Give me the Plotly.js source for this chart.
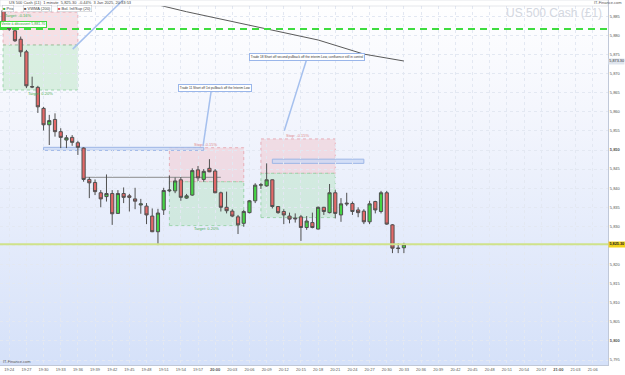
<!DOCTYPE html>
<html><head><meta charset="utf-8">
<script src="https://cdn.plot.ly/plotly-3.0.1.min.js"></script>
<style>html,body{margin:0;padding:0;background:#fff;}#chart{width:625px;height:375px;}</style>
</head><body><div id="chart"></div>
<script>
const DAY = '2025-01-03 ';
const times = ['19:23','19:24','19:25','19:26','19:27','19:28','19:29','19:30','19:31','19:32',
'19:33','19:34','19:35','19:36','19:37','19:38','19:39','19:40','19:41','19:42',
'19:43','19:44','19:45','19:46','19:47','19:48','19:49','19:50','19:51','19:52',
'19:53','19:54','19:55','19:56','19:57','19:58','19:59','20:00','20:01','20:02',
'20:03','20:04','20:05','20:06','20:07','20:08','20:09','20:10','20:11','20:12',
'20:13','20:14','20:15','20:16','20:17','20:18','20:19','20:20','20:21','20:22',
'20:23','20:24','20:25','20:26','20:27','20:28','20:29','20:30','20:31','20:32','20:33'];
const open = [5886.5,5883.3,5881.2,5879.0,5875.7,5866.6,5866.4,5860.9,5856.6,5858.0,
5854.8,5852.6,5853.3,5851.9,5850.5,5842.3,5841.5,5838.8,5837.8,5838.6,
5833.4,5838.6,5838.0,5837.2,5835.6,5835.3,5832.7,5828.6,5834.3,5839.3,
5839.3,5842.2,5837.4,5838.2,5844.8,5842.3,5845.2,5844.5,5838.8,5835.0,
5834.0,5832.5,5830.8,5833.6,5836.7,5840.8,5840.6,5842.2,5835.2,5833.9,
5832.7,5832.2,5832.5,5829.7,5831.0,5829.3,5835.0,5833.6,5838.8,5833.0,
5836.1,5836.0,5834.3,5834.0,5831.2,5836.5,5833.9,5838.8,5830.4,5824.2,5824.4];
const high = [5886.9,5883.8,5881.7,5879.7,5876.2,5869.2,5866.8,5861.3,5859.2,5859.6,
5855.7,5853.9,5853.9,5852.4,5850.7,5842.9,5842.3,5839.5,5843.6,5839.5,
5839.5,5840.2,5838.5,5840.1,5837.2,5836.1,5834.7,5834.6,5840.1,5843.3,
5842.8,5842.9,5838.5,5845.2,5845.8,5845.0,5847.6,5845.0,5839.1,5839.1,
5834.5,5833.0,5834.3,5836.9,5841.3,5841.4,5846.5,5842.3,5835.3,5834.5,
5833.6,5833.4,5833.0,5832.7,5833.6,5835.2,5835.1,5841.1,5839.5,5837.4,
5838.8,5836.5,5835.0,5834.5,5836.7,5836.7,5839.3,5839.3,5830.6,5825.6,5825.7];
const low = [5882.7,5881.2,5878.3,5874.4,5866.2,5866.2,5859.7,5855.1,5851.3,5853.5,
5850.5,5850.5,5851.1,5848.7,5841.7,5837.4,5838.2,5835.0,5836.5,5830.4,
5833.3,5836.1,5833.9,5834.5,5833.3,5830.6,5828.5,5825.1,5833.0,5838.9,
5838.7,5836.7,5837.2,5838.0,5841.9,5841.7,5844.2,5838.7,5833.9,5833.4,
5832.4,5828.0,5829.9,5833.4,5836.1,5839.8,5840.4,5834.7,5833.3,5830.6,
5830.8,5831.0,5826.2,5829.1,5829.5,5829.2,5833.0,5833.4,5832.1,5831.2,
5835.3,5833.0,5832.4,5830.6,5830.6,5833.4,5833.4,5830.4,5823.0,5823.0,5823.0];
const close = [5883.3,5881.6,5878.6,5875.7,5866.8,5866.5,5861.3,5856.6,5857.7,5854.8,
5853.3,5853.2,5852.0,5850.7,5842.3,5841.4,5839.1,5837.2,5838.6,5833.3,
5838.6,5837.6,5837.6,5836.6,5835.9,5833.0,5828.6,5833.5,5839.4,5839.5,
5841.9,5837.6,5838.0,5844.6,5842.7,5844.4,5844.3,5838.8,5835.0,5834.1,
5832.7,5830.4,5833.9,5836.7,5840.8,5840.9,5842.2,5835.2,5833.6,5833.0,
5831.9,5832.0,5829.7,5831.4,5829.7,5835.0,5833.9,5838.8,5833.4,5835.9,
5835.9,5833.9,5833.6,5831.2,5835.9,5834.3,5838.8,5830.6,5824.3,5824.3,5825.3];
const maTimes = ['19:47','19:50','19:55','19:59','20:08','20:18','20:26','20:33'];
const maValues = [5889.9,5888.0,5886.2,5884.9,5881.9,5878.8,5875.1,5873.3];
const lastPrice = 5825.3;
const orderLevel = 5881.7;
const xTickTimes = ['19:24','19:27','19:30','19:33','19:36','19:39','19:42','19:45','19:48','19:51','19:54','19:57',
'20:00','20:03','20:06','20:09','20:12','20:15','20:18','20:21','20:24','20:27','20:30','20:33','20:36','20:39',
'20:42','20:45','20:48','20:51','20:54','20:57','21:00','21:03','21:06'];
const xTickText = ['19:24','19:27','19:30','19:33','19:36','19:39','19:42','19:45','19:48','19:51','19:54','19:57',
'<b>20:00</b>','20:03','20:06','20:09','20:12','20:15','20:18','20:21','20:24','20:27','20:30','20:33','20:36','20:39',
'20:42','20:45','20:48','20:51','20:54','20:57','<b>21:00</b>','21:03','21:06'];
const yTickVals = [5795,5800,5805,5810,5815,5820,5825,5830,5835,5840,5845,5850,5855,5860,5865,5870,5875,5880,5885];
const yTickText = ['5,795','<b>5,800</b>','5,805','5,810','5,815','5,820','','5,830','5,835','5,840','5,845','<b>5,850</b>','5,855','5,860','5,865','5,870','5,875','5,880','5,885'];

const T = t => DAY + (t.length === 5 ? t + ':00' : t);
const FONT = 'Liberation Sans, Arial, sans-serif';
const fmt = v => v.toLocaleString('en-US', {minimumFractionDigits: 2, maximumFractionDigits: 2});

const traces = [
  {
    type: 'candlestick',
    x: times.map(T), open: open, high: high, low: low, close: close,
    increasing: {fillcolor: '#45d345', line: {color: '#505050', width: 1}},
    decreasing: {fillcolor: '#e36868', line: {color: '#505050', width: 1}},
    whiskerwidth: 0, hoverinfo: 'skip', showlegend: false
  },
  {
    type: 'scatter', mode: 'lines', x: maTimes.map(T), y: maValues,
    line: {color: '#5a5a5a', width: 1}, hoverinfo: 'skip', showlegend: false
  }
];

const PH = 365; // plot height px
const py = p => 1 - p / PH;

const grad = '<svg xmlns="http://www.w3.org/2000/svg" width="10" height="100" preserveAspectRatio="none"><defs><linearGradient id="g" x1="0" y1="0" x2="0" y2="1"><stop offset="0" stop-color="#ffffff"/><stop offset="0.3" stop-color="#f4f6fd"/><stop offset="0.66" stop-color="#e4ebfb"/><stop offset="1" stop-color="#d5e1f9"/></linearGradient></defs><rect width="10" height="100" fill="url(#g)"/></svg>';

const pinkFill = 'rgba(240,200,208,0.55)', pinkLine = 'rgba(230,170,180,0.9)';
const greenFill = 'rgba(185,228,195,0.5)', greenLine = 'rgba(150,210,165,0.9)';

const shapes = [
  {type:'rect', xref:'paper', yref:'paper', x0:0, x1:1, y0:py(6), y1:1, fillcolor:'#ffffff', line:{color:'#c8ccd4', width:0.5}, layer:'above'},
  {type:'rect', xref:'x', yref:'y', x0:T('19:22:55'), x1:T('19:36'), y0:5877.5, y1:5886.1, fillcolor:pinkFill, line:{color:pinkLine, width:1, dash:'dot'}, layer:'below'},
  {type:'rect', xref:'x', yref:'y', x0:T('19:22:55'), x1:T('19:36'), y0:5865.7, y1:5877.5, fillcolor:greenFill, line:{color:greenLine, width:1, dash:'dot'}, layer:'below'},
  {type:'rect', xref:'x', yref:'y', x0:T('19:52'), x1:T('20:05'), y0:5841.7, y1:5850.6, fillcolor:pinkFill, line:{color:pinkLine, width:1, dash:'dot'}, layer:'below'},
  {type:'rect', xref:'x', yref:'y', x0:T('19:52'), x1:T('20:05'), y0:5830.2, y1:5841.7, fillcolor:greenFill, line:{color:greenLine, width:1, dash:'dot'}, layer:'below'},
  {type:'rect', xref:'x', yref:'y', x0:T('20:08'), x1:T('20:21'), y0:5843.9, y1:5852.9, fillcolor:pinkFill, line:{color:pinkLine, width:1, dash:'dot'}, layer:'below'},
  {type:'rect', xref:'x', yref:'y', x0:T('20:08'), x1:T('20:21'), y0:5832.3, y1:5843.9, fillcolor:greenFill, line:{color:greenLine, width:1, dash:'dot'}, layer:'below'},
  {type:'rect', xref:'x', yref:'y', x0:T('19:30'), x1:T('19:58'), y0:5849.9, y1:5850.7, fillcolor:'rgba(200,215,245,0.7)', line:{color:'#9db6e6', width:1}, layer:'below'},
  {type:'rect', xref:'x', yref:'y', x0:T('20:10'), x1:T('20:26'), y0:5846.5, y1:5847.6, fillcolor:'rgba(200,215,245,0.7)', line:{color:'#9db6e6', width:1}, layer:'below'},
  {type:'line', xref:'x', yref:'y', x0:T('19:36:54'), x1:T('20:01'), y0:5842.85, y1:5842.85, line:{color:'#8c8c8c', width:1}, layer:'below'},
  {type:'line', xref:'x', yref:'y', x0:T('19:35:06'), y0:5876.4, x1:T('19:43:54'), y1:5889.27, line:{color:'#a5c0ee', width:1.5}},
  {type:'line', xref:'x', yref:'y', x0:T('19:59:17'), y0:5865.2, x1:T('19:57:53'), y1:5851.0, line:{color:'#a5c0ee', width:1.5}},
  {type:'line', xref:'x', yref:'y', x0:T('20:16:00'), y0:5873.75, x1:T('20:12:05'), y1:5855.05, line:{color:'#a5c0ee', width:1.5}},
  {type:'line', xref:'paper', yref:'y', x0:0, x1:1, y0:orderLevel, y1:orderLevel, line:{color:'#3fdc3f', width:2, dash:'7px,5px'}},
  {type:'line', xref:'paper', yref:'y', x0:0, x1:1, y0:lastPrice, y1:lastPrice, line:{color:'#cfe28a', width:2}}
];

const small = (c, s) => ({family: FONT, size: s || 4, color: c});
const annotations = [
  {xref:'paper', yref:'paper', x:0.012, y:py(3), xanchor:'left', yanchor:'middle', showarrow:false,
   text:'US 500 Cash (£1)  1 minute  5,825.30  -0.44%  3 Jan 2025, 20:33:53', font: small('#444')},
  {xref:'paper', yref:'paper', x:0.004, y:py(8.5), xanchor:'left', yanchor:'middle', showarrow:false,
   text:'<span style="color:#3a3">■</span> Prix', font: small('#444'), bgcolor:'#ffffff', bordercolor:'#b8bcc4', borderwidth:0.5, borderpad:0.5},
  {xref:'paper', yref:'paper', x:0.038, y:py(8.5), xanchor:'left', yanchor:'middle', showarrow:false,
   text:'<span style="color:#555">■</span> VWMA (200)', font: small('#444'), bgcolor:'#ffffff', bordercolor:'#b8bcc4', borderwidth:0.5, borderpad:0.5},
  {xref:'paper', yref:'paper', x:0.093, y:py(8.5), xanchor:'left', yanchor:'middle', showarrow:false,
   text:'<span style="color:#d44">■</span> Bol. Inf/Sup (20)', font: small('#444'), bgcolor:'#ffffff', bordercolor:'#b8bcc4', borderwidth:0.5, borderpad:0.5},
  {xref:'paper', yref:'paper', x:604/608, y:py(12.5), xanchor:'right', yanchor:'middle', showarrow:false,
   text:'US 500 Cash (£1)', font:{family: FONT, size: 12, color:'#d3d7df'}},
  {xref:'paper', yref:'paper', x:624/608, y:py(2.5), xanchor:'right', yanchor:'middle', showarrow:false,
   text:'IT-Finance.com', font: small('#555')},
  {xref:'paper', yref:'paper', x:0.002, y:py(361), xanchor:'left', yanchor:'middle', showarrow:false,
   text:'IT-Finance.com', font: small('#555')},
  {xref:'paper', yref:'y', x:0.0, y:orderLevel + 0.25, xanchor:'left', yanchor:'bottom', showarrow:false,
   text:'Vente à découvert 5,881.70', font: small('#2e9e2e', 3.6), bgcolor:'#ffffff', bordercolor:'#3fdc3f', borderwidth:1, borderpad:0.3},
  {xref:'x', yref:'y', x:T('19:25:30'), y:5885.3, showarrow:false, text:'Target: -0.16%', font: small('#4caf50')},
  {xref:'x', yref:'y', x:T('19:29:30'), y:5864.8, showarrow:false, text:'Target: 0.20%', font: small('#4caf50')},
  {xref:'x', yref:'y', x:T('19:58:24'), y:5851.4, showarrow:false, text:'Stop: -0.15%', font: small('#e08a8a')},
  {xref:'x', yref:'y', x:T('19:58:24'), y:5829.4, showarrow:false, text:'Target: 0.20%', font: small('#4caf50')},
  {xref:'x', yref:'y', x:T('20:14:30'), y:5853.7, showarrow:false, text:'Stop: -0.15%', font: small('#e08a8a')},
  {xref:'x', yref:'y', x:T('20:00'), y:5866.2, showarrow:false,
   text:'Trade 11 Short off 1st pullback off the Interim Low', font: small('#333', 3.2), bgcolor:'#ffffff', bordercolor:'#9ab6ea', borderwidth:1, borderpad:0.8},
  {xref:'x', yref:'y', x:T('20:16:04'), y:5874.4, showarrow:false,
   text:'Trade 18 Short off second pullback off the interim Low, confluence still in control', font: small('#333', 3.2), bgcolor:'#ffffff', bordercolor:'#9ab6ea', borderwidth:1, borderpad:0.8},
  {xref:'paper', yref:'y', x:1.0, y:maValues[maValues.length-1], xanchor:'left', yanchor:'middle', showarrow:false,
   text:fmt(maValues[maValues.length-1]), font: small('#333', 3.8), bgcolor:'#dfe5ee', borderpad:0.3},
  {xref:'paper', yref:'y', x:1.0, y:lastPrice, xanchor:'left', yanchor:'middle', showarrow:false,
   text:'<b>' + fmt(lastPrice) + '</b>', font:{family: FONT, size: 3.8, color:'#222'}, bgcolor:'#f2d31c', borderpad:0.4}
];

const layout = {
  width: 625, height: 375,
  margin: {l: 0, r: 17, t: 0, b: 10, pad: 0},
  paper_bgcolor: '#ffffff', plot_bgcolor: 'rgba(0,0,0,0)',
  showlegend: false, hovermode: false, boxgap: 0.2,
  font: {family: FONT, size: 4, color: '#555'},
  xaxis: {
    type: 'date', range: [T('19:22:23'), T('21:08:41')],
    rangeslider: {visible: false},
    tickvals: xTickTimes.map(T), ticktext: xTickText,
    tickfont: {family: FONT, size: 4, color: '#555'},
    showgrid: true, gridcolor: '#e3e8f2', griddash: 'dot', gridwidth: 1,
    showline: true, linecolor: '#c0c8d8', linewidth: 1, ticks: '', zeroline: false, fixedrange: true
  },
  yaxis: {
    side: 'right', range: [5793.71, 5889.27],
    tickvals: yTickVals, ticktext: yTickText,
    tickfont: {family: FONT, size: 4, color: '#555'},
    showgrid: true, gridcolor: '#e3e8f2', griddash: 'dot', gridwidth: 1,
    showline: true, linecolor: '#c0c8d8', linewidth: 1, ticks: '', zeroline: false, fixedrange: true
  },
  images: [{source: 'data:image/svg+xml;charset=utf-8,' + encodeURIComponent(grad), xref:'paper', yref:'paper',
    x:0, y:1, sizex:1, sizey:1, xanchor:'left', yanchor:'top', sizing:'stretch', layer:'below'}],
  shapes: shapes,
  annotations: annotations
};

Plotly.newPlot('chart', traces, layout, {displayModeBar: false, staticPlot: true});
</script></body></html>
